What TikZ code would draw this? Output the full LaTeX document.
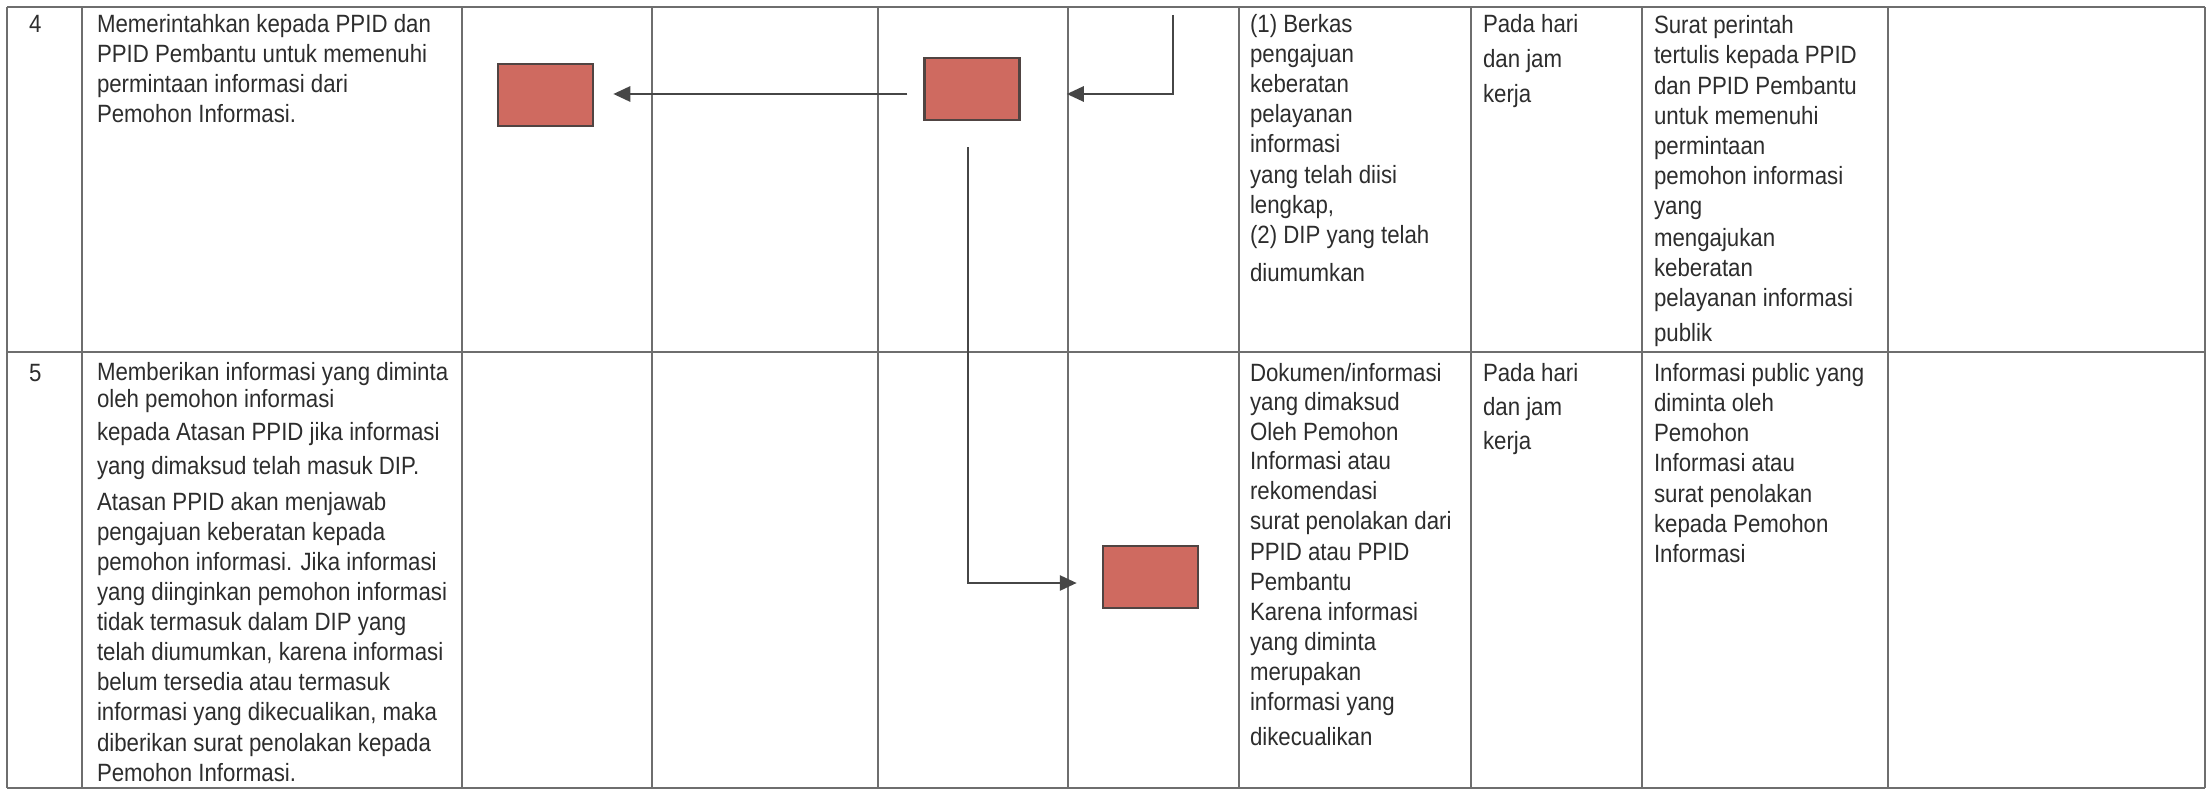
\documentclass[tikz,border=0pt]{standalone}
\usepackage{fontspec}
\setmainfont{Liberation Sans}[FakeStretch=0.89]
\usetikzlibrary{arrows.meta}
\definecolor{gridc}{RGB}{110,110,110}
\definecolor{linkc}{RGB}{70,70,70}
\definecolor{boxfill}{RGB}{207,106,96}
\definecolor{boxline}{RGB}{80,68,66}
\definecolor{txtc}{RGB}{45,45,45}
\newcommand\mytl[1]{\hbox{#1}}
\newcommand\mygap[1]{\vskip #1pt}
\newcommand\mycell[1]{\vtop{\baselineskip=30pt\lineskiplimit=-1000pt\lineskip=0pt\relax #1}}
\begin{document}
\begin{tikzpicture}[x=1pt,y=-1pt,
  font=\fontsize{25}{30}\selectfont,
  gridl/.style={draw=gridc, line width=1.4pt},
  tbox/.style={draw=boxline, fill=boxfill, line width=2.5pt, minimum width=95pt, minimum height=62pt, inner sep=0pt},
  txt/.style={anchor=base west, inner sep=0pt, outer sep=0pt, text=txtc},
  link/.style={draw=linkc, line width=2.8pt, -{Triangle[length=17pt,width=15pt]}}]
\useasboundingbox (0,0) rectangle (2210,791);
% table grid
\foreach \cx in {7,82,462,652,878,1068,1239,1471,1642,1888,2205}
  \draw[gridl] (\cx,7) -- (\cx,788);
\foreach \ry in {7,352,788}
  \draw[gridl] (7,\ry) -- (2205,\ry);
% boxes
\node[tbox] (B1) at (545.5,95) {};
\node[tbox] (B2) at (972,89) {};
\node[tbox] (B3) at (1150.5,577) {};
% connectors
\coordinate (lvA) at (0,94);
\coordinate (lvB) at (0,583);
\coordinate (tA) at (1173,15);
\draw[link, shorten <=16pt, shorten >=19pt] (B2.west |- lvA) -- (B1.east |- lvA);
\draw[link, shorten >=46pt] (tA) |- (B2.east |- lvA);
\draw[link, shorten <=26pt, shorten >=25pt] ([xshift=-4pt]B2.south) |- (B3.west |- lvB);
% row 4 texts
\node[txt] (n4) at (29,33) {4};
\node[txt] (d4) at (97,33) {\mycell{%
  \mytl{Memerintahkan kepada PPID dan}
  \mytl{PPID Pembantu untuk memenuhi}
  \mytl{permintaan informasi dari}
  \mytl{Pemohon Informasi.}}};
\node[txt] (k4) at (1250,33) {\mycell{%
  \mytl{(1) Berkas}
  \mytl{pengajuan}
  \mytl{keberatan}
  \mytl{pelayanan}
  \mytl{informasi}\mygap{1}
  \mytl{yang telah diisi}
  \mytl{lengkap,}
  \mytl{(2) DIP yang telah}\mygap{8}
  \mytl{diumumkan}}};
\node[txt] (w4) at (1483,33) {\mycell{\baselineskip=35pt
  \mytl{Pada hari}
  \mytl{dan jam}
  \mytl{kerja}}};
\node[txt] (o4) at (1654,34) {\mycell{%
  \mytl{Surat perintah}
  \mytl{tertulis kepada PPID}\mygap{1}
  \mytl{dan PPID Pembantu}
  \mytl{untuk memenuhi}
  \mytl{permintaan}
  \mytl{pemohon informasi}
  \mytl{yang}\mygap{2}
  \mytl{mengajukan}
  \mytl{keberatan}
  \mytl{pelayanan informasi}\mygap{5}
  \mytl{publik}}};
% row 5 texts
\node[txt] (n5) at (29,381) {5};
\node[txt] (d5) at (97,380) {\mycell{%
  \mytl{Memberikan informasi yang diminta}\mygap{-2}
  \mytl{oleh pemohon informasi}\mygap{2}
  \mytl{kepada Atasan PPID jika informasi}\mygap{4}
  \mytl{yang dimaksud telah masuk DIP.}\mygap{6}
  \mytl{Atasan PPID akan menjawab}
  \mytl{pengajuan keberatan kepada}
  \mytl{pemohon informasi. Jika informasi}
  \mytl{yang diinginkan pemohon informasi}
  \mytl{tidak termasuk dalam DIP yang}
  \mytl{telah diumumkan, karena informasi}
  \mytl{belum tersedia atau termasuk}
  \mytl{informasi yang dikecualikan, maka}\mygap{1}
  \mytl{diberikan surat penolakan kepada}
  \mytl{Pemohon Informasi.}}};
\node[txt] (k5) at (1250,381) {\mycell{%
  \mytl{Dokumen/informasi}\mygap{-1}
  \mytl{yang dimaksud}
  \mytl{Oleh Pemohon}
  \mytl{Informasi atau}
  \mytl{rekomendasi}
  \mytl{surat penolakan dari}
  \mytl{PPID atau PPID}
  \mytl{Pembantu}
  \mytl{Karena informasi}
  \mytl{yang diminta}
  \mytl{merupakan}
  \mytl{informasi yang}\mygap{5}
  \mytl{dikecualikan}}};
\node[txt] (w5) at (1483,381) {\mycell{\baselineskip=34pt
  \mytl{Pada hari}
  \mytl{dan jam}
  \mytl{kerja}}};
\node[txt] (o5) at (1654,381) {\mycell{%
  \mytl{Informasi public yang}
  \mytl{diminta oleh}
  \mytl{Pemohon}
  \mytl{Informasi atau}\mygap{1}
  \mytl{surat penolakan}
  \mytl{kepada Pemohon}
  \mytl{Informasi}}};
\end{tikzpicture}
\end{document}
